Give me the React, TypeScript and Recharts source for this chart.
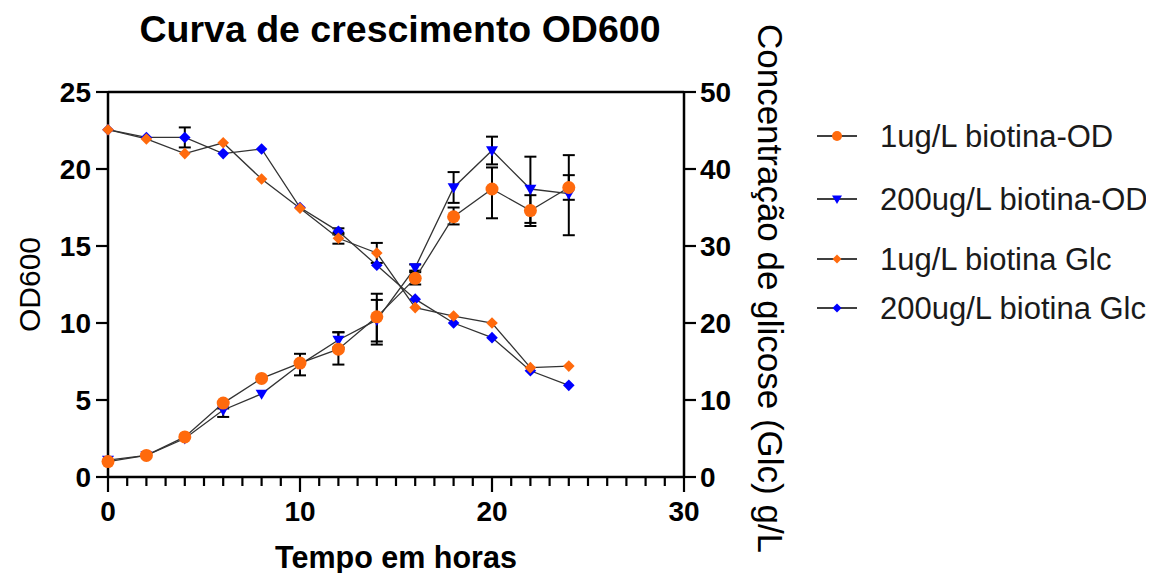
import React from 'react';
import { ComposedChart, Line, XAxis, YAxis, ErrorBar, ReferenceLine, Label } from 'recharts';

const FONT = '"Liberation Sans", Arial, Helvetica, sans-serif';
const ORANGE = '#FF6A0D';
const BLUE = '#0000FF';

// ---- data ----
const hours = [0, 2, 4, 6, 8, 10, 12, 14, 16, 18, 20, 22, 24];

const od1ug = [1.0, 1.4, 2.6, 4.8, 6.4, 7.4, 8.3, 10.4, 12.9, 16.9, 18.7, 17.3, 18.8];
const od1ugErr: (number[] | null)[] = [null, null, null, null, null, [0.8, 0.6], [1.0, 1.1], [1.6, 1.1], [0.4, 0.4], [0.5, 0.6], [1.9, 1.4], [1.0, 1.0], [0.8, 0.8]];

const od200ug = [1.1, 1.4, 2.5, 4.35, 5.4, 7.3, 8.9, 10.2, 13.6, 18.8, 21.2, 18.7, 18.4];
const od200ugErr: (number[] | null)[] = [null, null, null, [0.45, 0.1], null, null, [0.5, 0.5], [1.6, 1.7], [0.2, 0.2], [1.0, 1.0], [0.9, 0.9], [2.2, 2.1], [2.7, 2.5]];

const glc1ug = [45.1, 43.9, 42.0, 43.4, 38.7, 34.9, 31.0, 29.1, 22.0, 20.9, 20.0, 14.2, 14.4];
const glc1ugErr: (number[] | null)[] = [null, null, null, null, null, null, [0.7, 0.7], [1.3, 1.3], null, null, null, null, null];

const glc200ug = [45.1, 44.1, 44.1, 42.0, 42.6, 35.0, 31.9, 27.5, 23.1, 20.0, 18.1, 13.8, 11.9];
const glc200ugErr: (number[] | null)[] = [null, null, [1.3, 1.3], null, null, null, [0.4, 0.4], null, null, null, null, null, null];

const xTicks = [0, 1, 2, 3, 4, 5, 6, 7, 8, 9, 10, 11, 12, 13, 14, 15, 16, 17, 18, 19, 20, 21, 22, 23, 24, 25, 26, 27, 28, 29, 30];
const xLabelTicks = [0, 10, 20, 30];
const leftTicks = [0, 5, 10, 15, 20, 25];
const rightTicks = [0, 10, 20, 30, 40, 50];

const legendLabels = ['1ug/L biotina-OD', '200ug/L biotina-OD', '1ug/L biotina Glc', '200ug/L biotina Glc'];

const data = hours.map((h, i) => ({
  hour: h,
  od1: od1ug[i],
  od1Err: od1ugErr[i],
  od200: od200ug[i],
  od200Err: od200ugErr[i],
  glc1: glc1ug[i],
  glc1Err: glc1ugErr[i],
  glc200: glc200ug[i],
  glc200Err: glc200ugErr[i],
}));

// ---- marker shapes ----
type Shape = 'circle' | 'triangle' | 'diamond';

function Marker({ shape, cx, cy, color, s }: { shape: Shape; cx: number; cy: number; color: string; s: number }) {
  if (shape === 'circle') return <circle cx={cx} cy={cy} r={s} fill={color} />;
  if (shape === 'triangle')
    return <polygon points={`${cx - s},${cy - s * 0.7} ${cx + s},${cy - s * 0.7} ${cx},${cy + s}`} fill={color} />;
  return <polygon points={`${cx},${cy - s} ${cx + s},${cy} ${cx},${cy + s} ${cx - s},${cy}`} fill={color} />;
}

const makeDot = (shape: Shape, color: string, s: number) => (props: any) => {
  const { cx, cy, index } = props;
  if (cx == null || cy == null) return <g key={`d-${index}`} />;
  return (
    <g key={`d-${index}`}>
      <Marker shape={shape} cx={cx} cy={cy} color={color} s={s} />
    </g>
  );
};

const XTick = (props: any) => {
  const { x, y, payload } = props;
  const v = payload.value;
  const major = xLabelTicks.includes(v);
  return (
    <g>
      <line x1={x} x2={x} y1={y} y2={y + (major ? 15 : 9)} stroke="#000" strokeWidth={2.2} />
      {major && (
        <text x={x} y={y + 44} textAnchor="middle" fontFamily={FONT} fontWeight="bold" fontSize={28} fill="#000">
          {v}
        </text>
      )}
    </g>
  );
};

const series = [
  { key: 'glc200', err: 'glc200Err', axis: 'right', shape: 'diamond' as Shape, color: BLUE, s: 5.8 },
  { key: 'glc1', err: 'glc1Err', axis: 'right', shape: 'diamond' as Shape, color: ORANGE, s: 5.8 },
  { key: 'od200', err: 'od200Err', axis: 'left', shape: 'triangle' as Shape, color: BLUE, s: 6 },
  { key: 'od1', err: 'od1Err', axis: 'left', shape: 'circle' as Shape, color: ORANGE, s: 6.5 },
];

const legendOrder = [
  { shape: 'circle' as Shape, color: ORANGE, s: 5 },
  { shape: 'triangle' as Shape, color: BLUE, s: 5 },
  { shape: 'diamond' as Shape, color: ORANGE, s: 4.5 },
  { shape: 'diamond' as Shape, color: BLUE, s: 4.5 },
];
const legendRowY = [128, 191, 251, 300];

export default function App() {
  return (
    <div style={{ position: 'relative', width: 1154, height: 565 }}>
      <ComposedChart width={1154} height={565} data={data} margin={{ top: 84, right: 378, bottom: 0, left: 0 }}>
        <XAxis
          dataKey="hour"
          type="number"
          domain={[0, 30]}
          ticks={xTicks}
          interval={0}
          tickLine={false}
          tickSize={0}
          tickMargin={0}
          tick={(p: any) => <XTick {...p} />}
          axisLine={{ stroke: '#000', strokeWidth: 2.5 }}
          height={96}
        >
          <Label
            content={(p: any) => {
              const vb = p.viewBox;
              return (
                <text x={vb.x + vb.width / 2} y={vb.y + 91} textAnchor="middle" fontFamily={FONT} fontWeight="bold" fontSize={30.5} fill="#000">
                  Tempo em horas
                </text>
              );
            }}
          />
        </XAxis>
        <YAxis
          yAxisId="left"
          domain={[0, 25]}
          ticks={leftTicks}
          interval={0}
          width={100}
          tickSize={12}
          tickMargin={5}
          tickLine={{ stroke: '#000', strokeWidth: 2.2 }}
          axisLine={{ stroke: '#000', strokeWidth: 2.5 }}
          tick={{ fill: '#000', fontSize: 28, fontWeight: 'bold', fontFamily: FONT }}
        >
          <Label
            content={(p: any) => {
              const vb = p.viewBox;
              const cx = vb.x + 32;
              const cy = vb.y + vb.height / 2;
              return (
                <text x={cx} y={cy} transform={`rotate(-90 ${cx} ${cy})`} textAnchor="middle" fontFamily={FONT} fontSize={30} fill="#000">
                  OD600
                </text>
              );
            }}
          />
        </YAxis>
        <YAxis
          yAxisId="right"
          orientation="right"
          domain={[0, 50]}
          ticks={rightTicks}
          interval={0}
          width={100}
          tickSize={12}
          tickMargin={4}
          tickLine={{ stroke: '#000', strokeWidth: 2.2 }}
          axisLine={{ stroke: '#000', strokeWidth: 2.5 }}
          tick={{ fill: '#000', fontSize: 28, fontWeight: 'bold', fontFamily: FONT }}
        >
          <Label
            content={(p: any) => {
              const vb = p.viewBox;
              const cx = vb.x + 74;
              const cy = vb.y + vb.height / 2 + 4;
              return (
                <text x={cx} y={cy} transform={`rotate(90 ${cx} ${cy})`} textAnchor="middle" fontFamily={FONT} fontSize={35} fill="#000">
                  Concentração de glicose (Glc) g/L
                </text>
              );
            }}
          />
        </YAxis>
        <ReferenceLine yAxisId="left" y={25} stroke="#000" strokeWidth={2.5} />
        {series.map((sr) => (
          <Line
            key={sr.key}
            yAxisId={sr.axis}
            dataKey={sr.key}
            type="linear"
            stroke="#333"
            strokeWidth={1.3}
            dot={makeDot(sr.shape, sr.color, sr.s)}
            activeDot={false}
            isAnimationActive={false}
          >
            <ErrorBar dataKey={sr.err} direction="y" width={6} strokeWidth={2} stroke="#000" />
          </Line>
        ))}
      </ComposedChart>
      <svg width={1154} height={565} style={{ position: 'absolute', left: 0, top: 0, pointerEvents: 'none' }}>
        <text x={392} y={34} textAnchor="middle" fontFamily={FONT} fontWeight="bold" fontSize={37.5} fill="#000">
          Curva de crescimento OD600
        </text>
        {legendLabels.map((lbl, i) => (
          <g key={lbl}>
            <line x1={809} x2={849} y1={legendRowY[i]} y2={legendRowY[i]} stroke="#000" strokeWidth={1.5} />
            <Marker shape={legendOrder[i].shape} cx={829} cy={legendRowY[i]} color={legendOrder[i].color} s={legendOrder[i].s} />
            <text x={872} y={legendRowY[i] + 11} fontFamily={FONT} fontSize={31} fill="#1a1a1a">
              {lbl}
            </text>
          </g>
        ))}
      </svg>
    </div>
  );
}
